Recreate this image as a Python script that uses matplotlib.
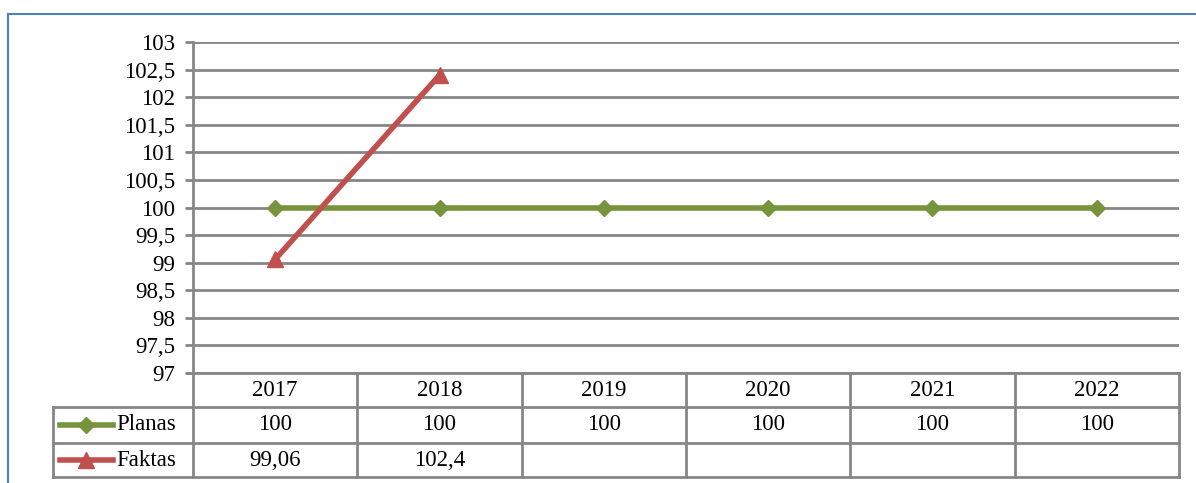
import os
import matplotlib
matplotlib.use("Agg")
import matplotlib.pyplot as plt
from matplotlib.lines import Line2D
from matplotlib.font_manager import FontProperties
import numpy as np

years = ["2017", "2018", "2019", "2020", "2021", "2022"]
planas = [100, 100, 100, 100, 100, 100]
faktas = [99.06, 102.4]
planas_txt = ["100", "100", "100", "100", "100", "100"]
faktas_txt = ["99,06", "102,4", "", "", "", ""]
yticks = [97, 97.5, 98, 98.5, 99, 99.5, 100, 100.5, 101, 101.5, 102, 102.5, 103]

W, H = 1196, 483
fs = 16.5
path = "/usr/share/fonts/truetype/liberation/LiberationSerif-Regular.ttf"
if os.path.exists(path):
    fp = FontProperties(fname=path, size=fs)
else:
    fp = FontProperties(family="serif", size=fs)
green = "#77933C"
red = "#C0504D"
grid_c = "#868686"

fig = plt.figure(figsize=(W / 100, H / 100), dpi=100)

def fx(px):
    return px / W

def fy(py):
    return 1 - py / H

left, right, top, bottom = 193, 1179, 42, 373
ax = fig.add_axes([fx(left), fy(bottom), fx(right - left), (bottom - top) / H])
x = np.arange(len(years)) + 0.5
ax.plot(x, planas, color=green, lw=4, marker="D", ms=8, zorder=3)
ax.plot(x[:len(faktas)], faktas, color=red, lw=4, marker="^", ms=11, zorder=3)
ax.set_xlim(0, len(years))
ax.set_ylim(97, 103)
ax.set_yticks(yticks)
ax.set_yticklabels([("%g" % t).replace(".", ",") for t in yticks], fontproperties=fp)
ax.set_xticks([])
ax.grid(axis="y", color=grid_c, lw=2)
ax.set_axisbelow(True)
for s in ["top", "right", "bottom"]:
    ax.spines[s].set_visible(False)
ax.spines["left"].set_color(grid_c)
ax.spines["left"].set_linewidth(2)
ax.tick_params(axis="y", length=6, width=2, color=grid_c, pad=7)

# outer chart border (blue)
fig.add_artist(Line2D([fx(8), fx(8)], [fy(13.5), 0], color="#4F81BD", lw=1.5))
fig.add_artist(Line2D([fx(8), 1], [fy(13.5), fy(13.5)], color="#4F81BD", lw=1.5))

# data table below
rows = [373, 407, 443, 477]
colw = (right - left) / len(years)
tl = 53

def hline(x0, x1, y):
    fig.add_artist(Line2D([fx(x0), fx(x1)], [fy(y), fy(y)], color=grid_c, lw=2))

def vline(xp, y0, y1):
    fig.add_artist(Line2D([fx(xp), fx(xp)], [fy(y0), fy(y1)], color=grid_c, lw=2))

hline(187, right, rows[0])
for r in rows[1:]:
    hline(tl, right, r)
vline(tl, rows[1], rows[3])
for i in range(len(years) + 1):
    vline(left + i * colw, rows[0], rows[3])

for i, yr in enumerate(years):
    cx = fx(left + (i + 0.5) * colw)
    fig.text(cx, fy((rows[0] + rows[1]) / 2), yr, ha="center", va="center", fontproperties=fp)
    fig.text(cx, fy((rows[1] + rows[2]) / 2), planas_txt[i], ha="center", va="center", fontproperties=fp)
    fig.text(cx, fy((rows[2] + rows[3]) / 2), faktas_txt[i], ha="center", va="center", fontproperties=fp)

for (name, col, mk, ms), r0, r1 in [(("Planas", green, "D", 8), rows[1], rows[2]),
                                    (("Faktas", red, "^", 11), rows[2], rows[3])]:
    yc = fy((r0 + r1) / 2)
    fig.add_artist(Line2D([fx(60), fx(113)], [yc, yc], color=col, lw=4))
    fig.add_artist(Line2D([fx(86.5)], [yc], color=col, marker=mk, ms=ms, lw=0))
    fig.text(fx(116), yc, name, ha="left", va="center", fontproperties=fp)

fig.savefig("out.png", dpi=100)
